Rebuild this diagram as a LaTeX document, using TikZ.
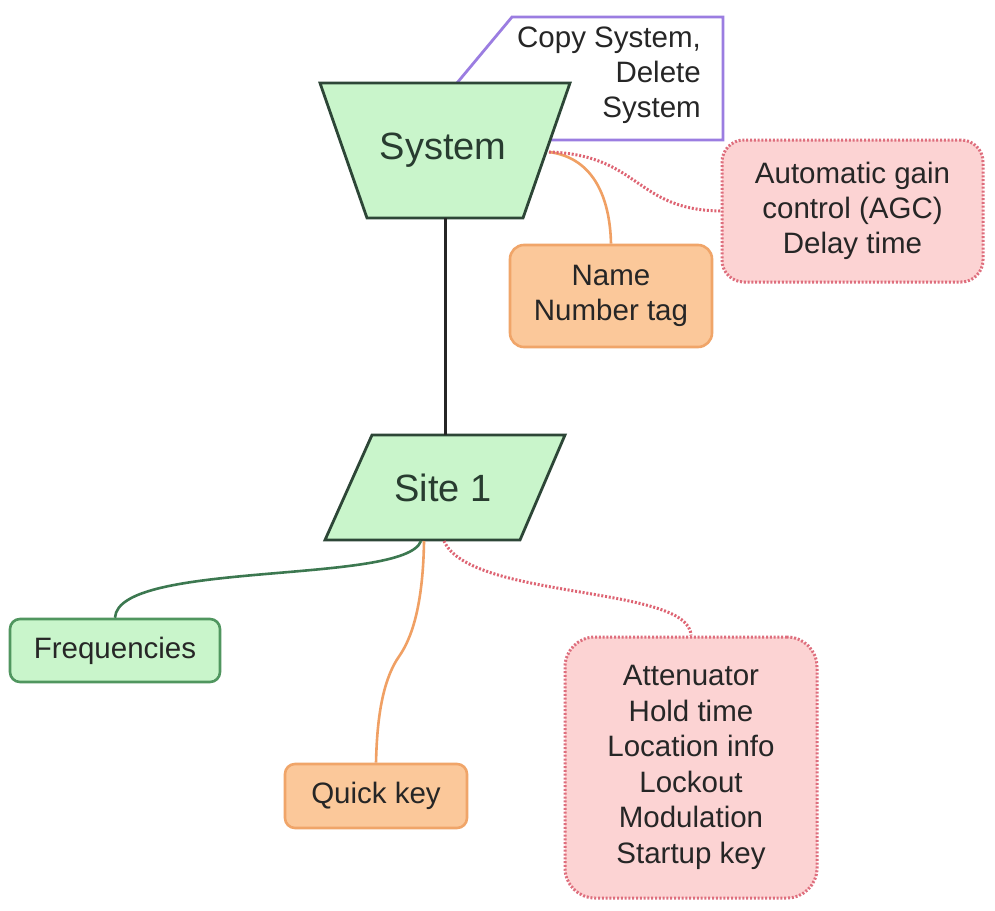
\documentclass[tikz,border=0pt]{standalone}
\usepackage{fontspec}
\setmainfont{Liberation Sans}
\begin{document}
\begin{tikzpicture}[x=1pt,y=-1pt,
  txt/.style={font=\fontsize{29.5}{35}\selectfont, text=black!85, align=center, inner sep=0pt},
  shapeline/.style={draw={rgb,255:red,45;green,70;blue,55}, line width=2.8pt, fill={rgb,255:red,201;green,245;blue,203}},
  gbox/.style={txt, draw={rgb,255:red,80;green,150;blue,95}, line width=2.6pt, fill={rgb,255:red,201;green,245;blue,203}, rounded corners=10pt},
  obox/.style={txt, draw={rgb,255:red,240;green,165;blue,105}, line width=2.6pt, fill={rgb,255:red,251;green,200;blue,154}, rounded corners=14pt},
  pbox/.style={txt, draw={rgb,255:red,222;green,110;blue,125}, line width=3pt, dash pattern=on 2pt off 1.8pt, fill={rgb,255:red,252;green,211;blue,211}, rounded corners=22pt},
  oline/.style={draw={rgb,255:red,240;green,160;blue,100}, line width=2.6pt},
  gline/.style={draw={rgb,255:red,60;green,120;blue,80}, line width=2.6pt},
  pline/.style={draw={rgb,255:red,222;green,100;blue,115}, line width=3pt, dash pattern=on 2pt off 1.8pt},
]
\useasboundingbox (0,0) rectangle (995,910);
\fill[white] (0,0) rectangle (995,910);

% callout
\draw[draw={rgb,255:red,155;green,125;blue,225}, line width=2.8pt, fill=white, line join=miter]
  (457,83) -- (512,17) -- (723,17) -- (723,140) -- (548,140);
\node[txt, align=right, anchor=north east] (callout) at (701,27) {Copy System,\\Delete\\System};

% system trapezoid
\draw[shapeline] (320,83) -- (570,83) -- (523,218) -- (367,218) -- cycle;
\node[txt, font=\fontsize{38}{40}\selectfont, text={rgb,255:red,40;green,60;blue,48}] (system) at (443,150) {System};
\coordinate (sysright) at (549,152);
\coordinate (sysbot) at (445,218);

% site parallelogram
\draw[shapeline] (372,435) -- (565,435) -- (520,540) -- (325,540) -- cycle;
\node[txt, font=\fontsize{38}{40}\selectfont, text={rgb,255:red,40;green,60;blue,48}] (site) at (443,488) {Site 1};
\coordinate (sitetop) at (445,435);
\coordinate (sitebotA) at (421,541);
\coordinate (sitebotB) at (424,541);
\coordinate (sitebotC) at (444,541);

% boxes
\node[pbox, minimum width=261pt, minimum height=142pt] (agc) at (852.5,211) {Automatic gain\\control (AGC)\\Delay time};
\node[obox, minimum width=202pt, minimum height=102pt] (name) at (611,296) {Name\\Number tag};
\node[gbox, minimum width=210pt, minimum height=63pt] (freq) at (115,650.5) {Frequencies};
\node[obox, rounded corners=10pt, minimum width=182pt, minimum height=64pt] (quick) at (376,796) {Quick key};
\node[pbox, rounded corners=30pt, font=\fontsize{29.5}{35.5}\selectfont, minimum width=252pt, minimum height=261pt] (att) at (691,767.5) {Attenuator\\Hold time\\Location info\\Lockout\\Modulation\\Startup key};

% connectors
\draw[line width=3pt, black!85] (sysbot) -- (sitetop);
\draw[oline] (sysright) .. controls (595,158) and (610,200) .. (name.north);
\draw[pline] (sysright) .. controls (640,155) and (635,210) .. (agc.west);
\draw[gline] (sitebotA) .. controls (405,585) and (118,560) .. (freq.north);
\draw[oline] (sitebotB) .. controls (423,610) and (410,640) .. (400,655)
  .. controls (382,680) and (377,720) .. (quick.north);
\draw[pline] (sitebotC) .. controls (470,600) and (690,585) .. (att.north);
\end{tikzpicture}
\end{document}
